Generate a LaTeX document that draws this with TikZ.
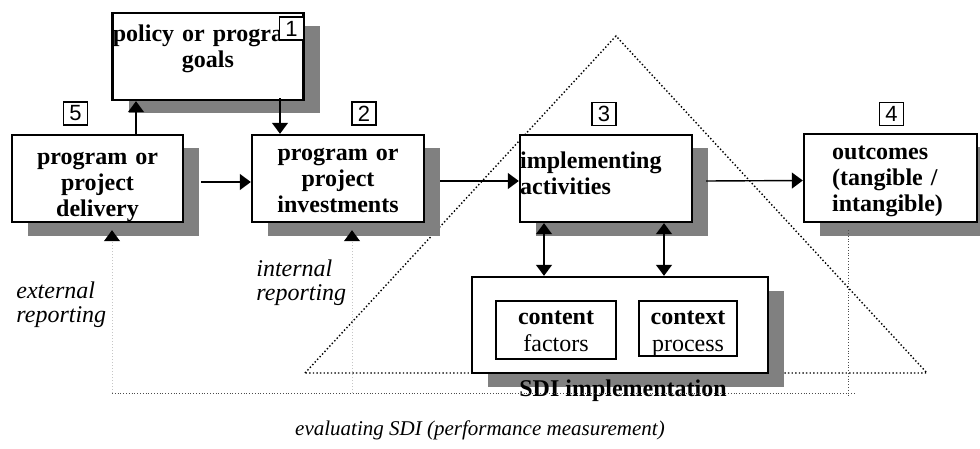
\documentclass[tikz,border=0pt]{standalone}
\usepackage{fontspec}
\setmainfont{Liberation Serif}
\newfontfamily\numfont{Liberation Sans}
\usetikzlibrary{arrows.meta,shadows,calc}

\begin{document}
\begin{tikzpicture}[x=0.5pt,y=-0.5pt,
    box/.style={draw, fill=white, line width=1.2pt, inner sep=0pt,
      drop shadow={shadow xshift=8pt, shadow yshift=-6.75pt, fill=gray, opacity=1}},
    inbox/.style={draw, fill=white, line width=1pt, inner sep=0pt},
    txt/.style={inner sep=0pt, font=\fontsize{12}{13}\selectfont\bfseries},
    num/.style={draw, fill=white, line width=0.8pt, inner sep=0pt, minimum width=12pt,
      minimum height=11.5pt, font=\numfont\fontsize{11}{12}\selectfont},
    note/.style={inner sep=0pt, align=left, text width=50pt, font=\fontsize{12}{12}\selectfont\itshape},
    arr/.style={line width=0.7pt, -{Triangle[length=5.5pt,width=8pt]}},
    dbl/.style={line width=0.7pt, {Triangle[length=5.5pt,width=8pt]}-{Triangle[length=5.5pt,width=8pt]}},
    rep/.style={draw=gray!45, densely dotted, line width=0.5pt, -{Triangle[length=5.5pt,width=8pt,color=black]}},
    evalline/.style={draw=black!70, densely dotted, line width=0.4pt},
    tri/.style={line width=0.7pt, dash pattern=on 0.7pt off 1.1pt}]
  \useasboundingbox (0,0) rectangle (980,449);

  % triangle round the implementation
  \coordinate (apex) at (616,36);
  \coordinate (tl) at (305,373);
  \coordinate (tr) at (927,373);
  \draw[tri] (tl) -- (apex) -- (tr) -- cycle;

  \node[box, minimum width=95.5pt, minimum height=43.5pt] (policy) at (208,56.5) {};
  \node[box, minimum width=85.5pt, minimum height=43.5pt] (delivery) at (97.5,178.5) {};
  \node[box, minimum width=86pt, minimum height=43.5pt] (invest) at (338,178.5) {};
  \node[box, minimum width=86pt, minimum height=43.5pt] (impl) at (606,178.5) {};
  \node[box, minimum width=86.5pt, minimum height=44pt] (outcomes) at (890.5,178) {};
  \node[box, minimum width=148pt, minimum height=48pt] (sdi) at (620,325) {};
  \node[inbox, minimum width=60pt, minimum height=29pt] (content) at (556,330) {};
  \node[inbox, minimum width=49pt, minimum height=27.5pt] (context) at (688,328.5) {};

  \node[txt, text width=120pt, align=center, anchor=base] (policytxt)
    at ([yshift=-15pt]policy.north) {policy or program\\goals};
  \node[txt, text width=85pt, align=center, anchor=base] (deliverytxt)
    at ([yshift=-15.5pt]delivery.north) {program or\\project\\delivery};
  \node[txt, text width=86pt, align=center, anchor=base] (investtxt)
    at ([yshift=-13.5pt]invest.north) {program or\\project\\investments};
  \node[txt, text width=80pt, align=left, anchor=base west] (impltxt)
    at ([xshift=0.5pt,yshift=-17.5pt]impl.north west) {implementing\\activities};
  \node[txt, text width=70pt, align=left, anchor=base west] (outcomestxt)
    at ([xshift=14.5pt,yshift=-13.5pt]outcomes.north west) {outcomes\\(tangible /\\intangible)};
  \node[txt, text width=60pt, align=center, anchor=base, font=\fontsize{12}{13.5}\selectfont\bfseries]
    (contenttxt) at ([yshift=-12pt]content.north) {content\\\mdseries factors};
  \node[txt, text width=49pt, align=center, anchor=base, font=\fontsize{12}{13.5}\selectfont\bfseries]
    (contexttxt) at ([yshift=-12pt]context.north) {context\\\mdseries process};

  \node[num] (n1) at (291.5,28.5) {1};
  \node[num] (n2) at (364,113.5) {2};
  \node[num] (n3) at (604,114) {3};
  \node[num] (n4) at (891.5,114) {4};
  \node[num] (n5) at (75.5,113.5) {5};

  \draw[arr] ([xshift=19.25pt]delivery.north) -- ([xshift=19.25pt]delivery.north |- policy.south);
  \draw[arr] ([xshift=36pt,yshift=1.5pt]policy.south) -- ([xshift=36pt]policy.south |- invest.north);
  \draw[arr] ([xshift=8.5pt,yshift=-1.75pt]delivery.east) -- ([yshift=-1.75pt]invest.west);
  \draw[arr] ([xshift=7.5pt,yshift=-1.25pt]invest.east) -- ([yshift=-1.25pt]impl.west);
  \draw[arr] ([xshift=6.5pt,yshift=-1.25pt]impl.east) -- ([yshift=-1.25pt]outcomes.west);
  \draw[dbl] ([xshift=-38pt]sdi.north) -- ([xshift=-38pt]sdi.north |- impl.south);
  \draw[dbl] ([xshift=22pt]sdi.north) -- ([xshift=22pt]sdi.north |- impl.south);

  \node[txt, anchor=base] (sditxt) at ([xshift=1.5pt,yshift=-11pt]sdi.south) {SDI implementation};
  \node[note, anchor=base west] (inttxt) at (256,276) {internal\\reporting};
  \node[note, anchor=base west] (exttxt) at (16,298) {external\\reporting};
  \node[inner sep=0pt, anchor=base, font=\fontsize{10.5}{12}\selectfont\itshape] (evaltxt)
    at (480,435) {evaluating SDI (performance measurement)};

  % reporting and evaluation lines
  \coordinate (ext) at (112,393);
  \coordinate (int) at (352,393);
  \coordinate (eval) at (855,393);
  \coordinate (out) at (848,396);
  \draw[rep] (ext) -- ($(ext |- delivery.south)+(0,7)$);
  \draw[rep] (int) -- ($(int |- invest.south)+(0,7)$);
  \draw[evalline] ($(out |- outcomes.south)+(0,7)$) -- (out);
  \draw[evalline] (ext) -- (eval);
\end{tikzpicture}
\end{document}
